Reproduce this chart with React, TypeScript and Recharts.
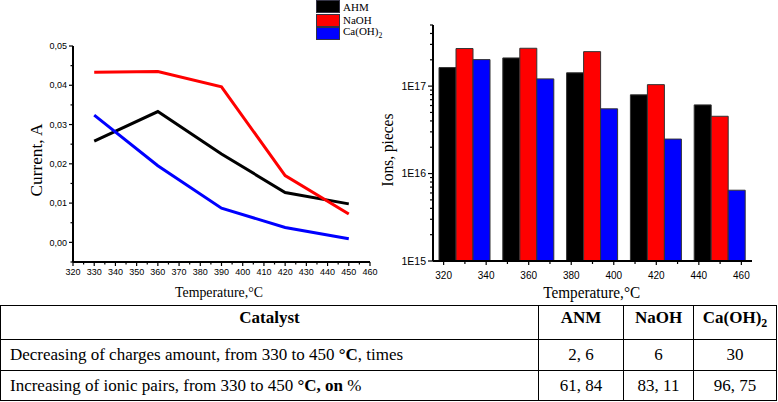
import { Bar, BarChart, Label, Line, LineChart, XAxis, YAxis } from "recharts";

const temperatures = [330, 360, 390, 420, 450];

// current, A
const currentAhm = [0.0258, 0.0333, 0.0225, 0.0127, 0.0098];
const currentNaoh = [0.0433, 0.0435, 0.0396, 0.017, 0.0072];
const currentCaoh = [0.0324, 0.0195, 0.0087, 0.0038, 0.0009];

// ions, pieces
const ionsAhm = [1.63e17, 2.1e17, 1.42e17, 7.95e16, 6.1e16];
const ionsNaoh = [2.69e17, 2.71e17, 2.48e17, 1.04e17, 4.52e16];
const ionsCaoh = [2.01e17, 1.21e17, 5.5e16, 2.48e16, 6.45e15];

const currentTicksX = [
  320, 325, 330, 335, 340, 345, 350, 355, 360, 365, 370, 375, 380, 385, 390,
  395, 400, 405, 410, 415, 420, 425, 430, 435, 440, 445, 450, 455, 460,
];
const currentTicksY = [
  -0.005, 0, 0.005, 0.01, 0.015, 0.02, 0.025, 0.03, 0.035, 0.04, 0.045, 0.05,
];
const ionsTicksX = [
  320, 330, 340, 350, 360, 370, 380, 390, 400, 410, 420, 430, 440, 450, 460,
];
const ionsTicksY = [
  1e15, 2e15, 3e15, 4e15, 5e15, 6e15, 7e15, 8e15, 9e15,
  1e16, 2e16, 3e16, 4e16, 5e16, 6e16, 7e16, 8e16, 9e16,
  1e17, 2e17, 3e17, 4e17, 5e17,
];

const currentDomainX = [320, 460];
const currentDomainY = [-0.005, 0.05];
const ionsDomainX = [315, 465];
const ionsDomainY = [1e15, 5e17];

const catalystNames = ["AHM", "NaOH", "Ca(OH)2"];
const tableColumns = ["ANM", "NaOH", "Ca(OH)2"];
const decreaseTimes = ["2, 6", "6", "30"];
const ionicPairsIncrease = ["61, 84", "83, 11", "96, 75"];

const currentRows = temperatures.map((t, i) => ({
  t,
  ahm: currentAhm[i],
  naoh: currentNaoh[i],
  caoh: currentCaoh[i],
}));

const ionsRows = temperatures.map((t, i) => ({
  t,
  ahm: ionsAhm[i],
  naoh: ionsNaoh[i],
  caoh: ionsCaoh[i],
}));

const SANS = "'Liberation Sans', Arial, sans-serif";
const SERIF = "'Liberation Serif', 'Times New Roman', serif";
const COLORS = ["#000000", "#ff0000", "#0000ff"];

function chem(name: string) {
  if (name.endsWith(")2")) {
    return (
      <>
        {name.slice(0, -1)}
        <sub style={{ fontSize: "0.7em" }}>2</sub>
      </>
    );
  }
  return name;
}

// bottom axis: tick mark (long for labelled values) and label
function bottomTick(isMajor: (v: number) => boolean, labelDy: number, fontSize: number, majorLen: number, minorLen: number) {
  return function Tick({ x, y, payload }: any) {
    const v = payload.value as number;
    const major = isMajor(v);
    return (
      <g>
        <path d={`M${x},${y}V${y + (major ? majorLen : minorLen)}`} stroke="#000" strokeWidth={1.2} />
        {major && (
          <text x={x} y={y + labelDy} textAnchor="middle" fontSize={fontSize} fontFamily={SANS} fill="#000">
            {v}
          </text>
        )}
      </g>
    );
  };
}

// left axis: tick mark (long for labelled values) and label
function leftTick(isMajor: (v: number) => boolean, format: (v: number) => string, fontSize: number, majorLen: number, minorLen: number) {
  return function Tick({ x, y, payload }: any) {
    const v = payload.value as number;
    const major = isMajor(v);
    return (
      <g>
        <path d={`M${x},${y}H${x - (major ? majorLen : minorLen)}`} stroke="#000" strokeWidth={1.2} />
        {major && format(v) !== "" && (
          <text x={x - majorLen - 2} y={y + fontSize * 0.35} textAnchor="end" fontSize={fontSize} fontFamily={SANS} fill="#000">
            {format(v)}
          </text>
        )}
      </g>
    );
  };
}

const CurrentXTick = bottomTick((v) => v % 10 === 0, 13, 9, 4, 2.5);
const CurrentYTick = leftTick(
  (v) => Math.abs(v * 100 - Math.round(v * 100)) < 1e-6,
  (v) => (v < 0 ? "" : v.toFixed(2).replace(".", ",")),
  9,
  4,
  2.5,
);
const IonsXTick = bottomTick((v) => v % 20 === 0, 18, 10, 4, 3);
const IonsYTick = leftTick(
  (v) => Math.abs(Math.log10(v) - Math.round(Math.log10(v))) < 1e-9,
  (v) => `1E${Math.round(Math.log10(v))}`,
  10.5,
  5,
  3,
);

function title(text: string, x: number, y: number, len: number, size: number, rotate = false) {
  return () => (
    <text
      transform={`translate(${x},${y})${rotate ? " rotate(-90)" : ""}`}
      textAnchor="middle"
      fontSize={size}
      fontFamily={SERIF}
      fill="#000"
      textLength={len}
      lengthAdjust="spacingAndGlyphs"
    >
      {text}
    </text>
  );
}

const axisCommon = {
  interval: 0 as const,
  tickLine: false,
  axisLine: { stroke: "#000", strokeWidth: 2 },
  tickSize: 0,
  tickMargin: 0,
};

const cell = {
  border: "1.5px solid #000",
  fontFamily: SERIF,
  fontSize: 17,
  padding: 0,
  color: "#000",
};

export default function App() {
  return (
    <div
      style={{
        position: "absolute",
        left: 0,
        top: 0,
        width: 778,
        height: 402,
        background: "#fff",
        overflow: "hidden",
      }}
    >
      <div style={{ position: "absolute", left: 0, top: 0 }}>
        <LineChart width={390} height={305} data={currentRows} margin={{ top: 46, right: 20, left: 0, bottom: 13 }}>
          <XAxis
            dataKey="t"
            type="number"
            domain={currentDomainX}
            ticks={currentTicksX}
            tick={<CurrentXTick />}
            height={30}
            {...axisCommon}
          >
            <Label content={title("Temperature,°C", 219, 296.5, 88, 15)} />
          </XAxis>
          <YAxis
            type="number"
            domain={currentDomainY}
            allowDataOverflow
            ticks={currentTicksY}
            tick={<CurrentYTick />}
            width={73}
            {...axisCommon}
          >
            <Label content={title("Current, A", 42, 160, 73, 17, true)} />
          </YAxis>
          <Line type="linear" dataKey="ahm" name={catalystNames[0]} stroke={COLORS[0]} strokeWidth={3} dot={false} isAnimationActive={false} />
          <Line type="linear" dataKey="naoh" name={catalystNames[1]} stroke={COLORS[1]} strokeWidth={3} dot={false} isAnimationActive={false} />
          <Line type="linear" dataKey="caoh" name={catalystNames[2]} stroke={COLORS[2]} strokeWidth={3} dot={false} isAnimationActive={false} />
        </LineChart>
      </div>

      <div style={{ position: "absolute", left: 316, top: 0, fontFamily: SERIF, fontSize: 11, lineHeight: "12px" }}>
        {catalystNames.map((name, i) => (
          <div key={name} style={{ display: "flex", alignItems: "center", height: 13.5 }}>
            <span
              style={{
                display: "inline-block",
                width: 22,
                height: 11,
                background: COLORS[i],
                border: "1px solid #334",
                marginRight: 3,
              }}
            />
            <span>{chem(name)}</span>
          </div>
        ))}
      </div>

      <div style={{ position: "absolute", left: 370, top: 0 }}>
        <BarChart width={408} height={305} data={ionsRows} barGap={0} margin={{ top: 25, right: 26, left: 0, bottom: 14 }}>
          <XAxis
            dataKey="t"
            type="number"
            domain={ionsDomainX}
            allowDataOverflow
            ticks={ionsTicksX}
            tick={<IonsXTick />}
            height={30}
            {...axisCommon}
          >
            <Label content={title("Temperature,°C", 221.7, 298, 97, 16)} />
          </XAxis>
          <YAxis
            type="number"
            scale="log"
            domain={ionsDomainY}
            allowDataOverflow
            ticks={ionsTicksY}
            tick={<IonsYTick />}
            width={63}
            {...axisCommon}
          >
            <Label content={title("Ions, pieces", 23, 150, 73, 17, true)} />
          </YAxis>
          <Bar dataKey="ahm" name={catalystNames[0]} fill={COLORS[0]} stroke="#333" barSize={17} isAnimationActive={false} />
          <Bar dataKey="naoh" name={catalystNames[1]} fill={COLORS[1]} stroke="#333" barSize={17} isAnimationActive={false} />
          <Bar dataKey="caoh" name={catalystNames[2]} fill={COLORS[2]} stroke="#333" barSize={17} isAnimationActive={false} />
        </BarChart>
      </div>

      <table
        style={{
          position: "absolute",
          left: 0,
          top: 305,
          width: 776,
          borderCollapse: "collapse",
          tableLayout: "fixed",
        }}
      >
        <colgroup>
          <col style={{ width: 538 }} />
          <col style={{ width: 85 }} />
          <col style={{ width: 70 }} />
          <col style={{ width: 83 }} />
        </colgroup>
        <tbody>
          <tr style={{ height: 34 }}>
            <td style={{ ...cell, fontWeight: "bold", textAlign: "center", verticalAlign: "top", paddingTop: 2 }}>Catalyst</td>
            {tableColumns.map((c) => (
              <td key={c} style={{ ...cell, fontWeight: "bold", textAlign: "center", verticalAlign: "top", paddingTop: 2 }}>
                {chem(c)}
              </td>
            ))}
          </tr>
          <tr style={{ height: 31 }}>
            <td style={{ ...cell, paddingLeft: 9 }}>
              Decreasing of charges amount, from 330 to 450 <b>°C</b>, times
            </td>
            {decreaseTimes.map((v, i) => (
              <td key={i} style={{ ...cell, textAlign: "center" }}>
                {v}
              </td>
            ))}
          </tr>
          <tr style={{ height: 30 }}>
            <td style={{ ...cell, paddingLeft: 9 }}>
              Increasing of ionic pairs, from 330 to 450 <b>°C, on</b> %
            </td>
            {ionicPairsIncrease.map((v, i) => (
              <td key={i} style={{ ...cell, textAlign: "center" }}>
                {v}
              </td>
            ))}
          </tr>
        </tbody>
      </table>
    </div>
  );
}
